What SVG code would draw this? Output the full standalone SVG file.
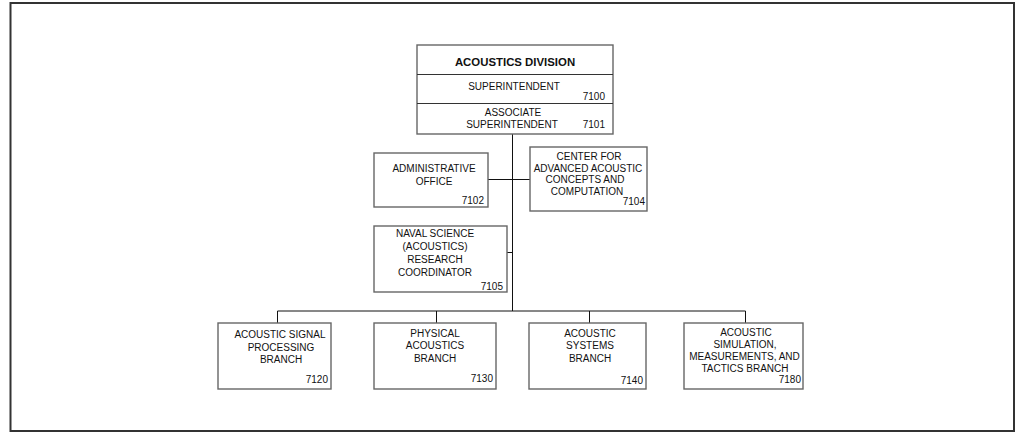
<svg xmlns="http://www.w3.org/2000/svg" width="1016" height="433" viewBox="0 0 1016 433">
<style>
.box{fill:#fff;stroke:#666;stroke-width:1.4}
.div{stroke:#333;stroke-width:1}
.con{stroke:#111;stroke-width:1;fill:none}
text{font-family:"Liberation Sans",Arial,sans-serif;font-size:10px;fill:#111}
.c{text-anchor:middle}
.r{text-anchor:end}
.b{font-weight:bold;font-size:11.4px}
</style>
<rect x="10.5" y="3" width="1003.5" height="428" fill="#fff" stroke="#333" stroke-width="2"/>
<g id="connectors">
<line class="con" x1="512.5" y1="134" x2="512.5" y2="311"/>
<line class="con" x1="488" y1="179.5" x2="530" y2="179.5"/>
<line class="con" x1="507" y1="252.5" x2="512.5" y2="252.5"/>
<line class="con" x1="277.5" y1="311" x2="745.5" y2="311"/>
<line class="con" x1="277.5" y1="311" x2="277.5" y2="323"/>
<line class="con" x1="436.5" y1="311" x2="436.5" y2="323"/>
<line class="con" x1="589.5" y1="311" x2="589.5" y2="323"/>
<line class="con" x1="745.5" y1="311" x2="745.5" y2="323"/>
</g>
<g id="division">
<rect class="box" x="417" y="45" width="196" height="89"/>
<line class="div" x1="417" y1="74.5" x2="613" y2="74.5"/>
<line class="div" x1="417" y1="103.5" x2="613" y2="103.5"/>
<text class="c b" x="515" y="66">ACOUSTICS DIVISION</text>
<text class="c" x="514" y="90">SUPERINTENDENT</text>
<text class="r" x="605" y="100">7100</text>
<text class="c" x="513" y="116">ASSOCIATE</text>
<text class="c" x="512" y="128">SUPERINTENDENT</text>
<text class="r" x="605" y="128">7101</text>
</g>
<g id="admin">
<rect class="box" x="374" y="153" width="114" height="54"/>
<text class="c" x="434" y="172">ADMINISTRATIVE</text>
<text class="c" x="434" y="185">OFFICE</text>
<text class="r" x="484" y="204">7102</text>
</g>
<g id="center">
<rect class="box" x="530" y="147" width="117" height="64"/>
<text class="c" x="589" y="160">CENTER FOR</text>
<text class="c" x="588" y="171.5">ADVANCED ACOUSTIC</text>
<text class="c" x="585" y="183">CONCEPTS AND</text>
<text class="c" x="587" y="195">COMPUTATION</text>
<text class="r" x="645" y="205">7104</text>
</g>
<g id="naval">
<rect class="box" x="374" y="226" width="133" height="66"/>
<text class="c" x="435" y="237">NAVAL SCIENCE</text>
<text class="c" x="435" y="250">(ACOUSTICS)</text>
<text class="c" x="435" y="263">RESEARCH</text>
<text class="c" x="435" y="275.5">COORDINATOR</text>
<text class="r" x="503" y="289.5">7105</text>
</g>
<g id="b7120">
<rect class="box" x="218" y="323" width="113" height="66"/>
<text class="c" x="280" y="338">ACOUSTIC SIGNAL</text>
<text class="c" x="281" y="351">PROCESSING</text>
<text class="c" x="281" y="363">BRANCH</text>
<text class="r" x="328" y="383">7120</text>
</g>
<g id="b7130">
<rect class="box" x="374" y="323" width="122" height="66"/>
<text class="c" x="435" y="336.5">PHYSICAL</text>
<text class="c" x="435" y="349">ACOUSTICS</text>
<text class="c" x="435" y="361.5">BRANCH</text>
<text class="r" x="493" y="382">7130</text>
</g>
<g id="b7140">
<rect class="box" x="529" y="323" width="117" height="66"/>
<text class="c" x="590" y="337">ACOUSTIC</text>
<text class="c" x="590" y="349">SYSTEMS</text>
<text class="c" x="590" y="361.5">BRANCH</text>
<text class="r" x="643" y="383.5">7140</text>
</g>
<g id="b7180">
<rect class="box" x="684" y="323" width="119" height="66"/>
<text class="c" x="746" y="336">ACOUSTIC</text>
<text class="c" x="745" y="348">SIMULATION,</text>
<text class="c" x="744.5" y="360">MEASUREMENTS, AND</text>
<text class="c" x="745" y="372">TACTICS BRANCH</text>
<text class="r" x="801" y="382.5">7180</text>
</g>
</svg>
